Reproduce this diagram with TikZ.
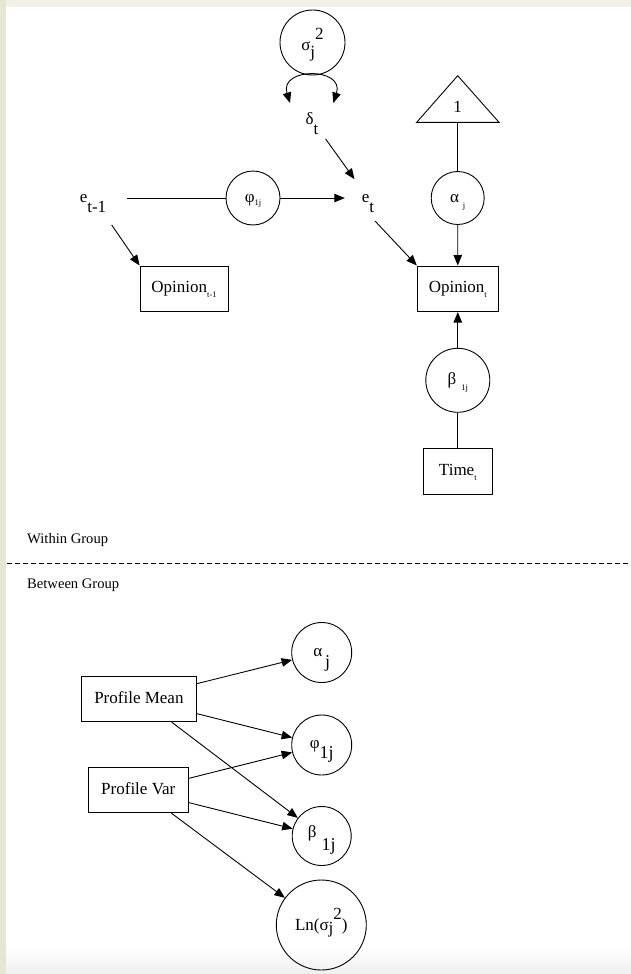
\documentclass[tikz,border=0pt]{standalone}
\usepackage{fontspec}
\setmainfont{Liberation Serif}
\usetikzlibrary{arrows.meta}
\definecolor{topbeige}{HTML}{F2F1E6}
\definecolor{leftbeige}{HTML}{E7E6D2}
\newcommand\tsub[2]{\raisebox{-#1}{\fontsize{8.5}{9}\selectfont #2}}
\newcommand\gsm[1]{{\fontsize{17}{19}\selectfont #1}}
\newcommand\bsub[2]{\raisebox{-#1}{\fontsize{18}{20}\selectfont #2}}
\begin{document}
\begin{tikzpicture}[x=1pt,y=-1pt,
  every node/.style={font=\fontsize{17}{20}\selectfont, inner sep=0pt},
  tx/.style={text height=12pt, text depth=4pt},
  circ/.style={draw, circle, line width=0.9pt, tx},
  box/.style={draw, rectangle, line width=0.9pt, tx},
  ghost/.style={circle, tx},
  ln/.style={line width=0.9pt},
  arr/.style={ln, -{Triangle[length=10.5pt,width=8.5pt]}},
  twoarr/.style={ln, {Triangle[length=10.5pt,width=8.5pt]}-{Triangle[length=10.5pt,width=8.5pt]}},
  grp/.style={font=\fontsize{14.6}{17}\selectfont, anchor=base west}
]
\useasboundingbox (0,0) rectangle (631,974);
\fill[white] (0,0) rectangle (631,974);
\shade[top color=white, bottom color=black!6] (6,948) rectangle (631,974);
\fill[topbeige] (0,0) rectangle (631,7);
\fill[leftbeige] (0,0) rectangle (6,974);

% ---------- within group ----------
\node[circ, minimum size=65pt] (sig) at (312.5,42.5)
  {\raisebox{-4.5pt}{σ\raisebox{-7pt}{j}\raisebox{11pt}{2}}};
\coordinate (sigL) at (290,103);
\coordinate (sigR) at (333.3,103);
\draw[twoarr] (sigL) .. controls (279,67) and (345,67) .. (sigR);

\node[ghost, minimum size=46pt] (delta) at (312,120) {δ\raisebox{-10pt}{t}};
\node[tx, minimum width=67.4pt] (em1) at (93,198) {e\raisebox{-10pt}{t-1}};
\node[circ, minimum size=54pt] (phi1) at (253,198) {φ\tsub{3pt}{1j}};
\node[ghost, minimum size=46pt] (et) at (368,198) {e\raisebox{-10pt}{t}};

\coordinate (triA) at (457.7,75.7);
\coordinate (triR) at (499,122.3);
\coordinate (triL) at (416.7,122.3);
\coordinate (triB) at (457.7,122.3);
\draw[ln, line join=miter] (triA) -- (triR) -- (triL) -- cycle;
\node[tx] (one) at (457.7,108.5) {1};

\node[circ, minimum size=53pt] (alphaT) at (457.7,198) {α\hspace{4pt}\tsub{6pt}{j}};
\node[box, minimum width=88pt, minimum height=45.7pt] (opT1) at (184,288.8) {Opinion\tsub{5pt}{t-1}};
\node[box, minimum width=81pt, minimum height=45.7pt] (opT) at (457.8,288.8) {Opinion\tsub{5pt}{t}};
\node[circ, minimum size=64pt] (betaT) at (457.8,380.3) {β\hspace{5pt}\tsub{6pt}{1j}};
\node[box, minimum width=69pt, minimum height=45.7pt] (time) at (457.8,471.2) {Time\tsub{5pt}{t}};

\coordinate (em1s) at (111.7,225);
\coordinate (ets) at (375,221);

\draw[ln] (em1.east) -- (phi1);
\draw[arr] (phi1) -- (et);
\draw[arr] (delta) -- (et);
\draw[arr] (em1s) -- (opT1.north west);
\draw[arr] (ets) -- (opT.north west);
\draw[ln] (triB) -- (alphaT);
\draw[arr] (alphaT) -- (opT);
\draw[arr] (betaT) -- (opT);
\draw[ln] (time) -- (betaT);

% ---------- separator ----------
\node[grp] (within) at (27,543) {Within Group};
\coordinate (dashL) at (7,563);
\coordinate (dashR) at (631,563);
\draw[line width=0.8pt, dash pattern=on 5pt off 3pt] (dashL) -- (dashR);
\node[grp] (between) at (27,588) {Between Group};

% ---------- between group ----------
\node[box, minimum width=114.3pt, minimum height=45pt] (pm) at (138.9,699.2) {Profile Mean};
\node[box, minimum width=100pt, minimum height=45.4pt] (pv) at (138.3,790) {Profile Var};
\node[circ, minimum size=60pt] (aB) at (321.7,652.5) {\gsm{α}\hspace{3pt}\bsub{11pt}{j}};
\node[circ, minimum size=60pt] (phiB) at (321.7,745) {\raisebox{1pt}{\gsm{φ}}\bsub{9pt}{1j}};
\node[circ, minimum size=59pt] (betaB) at (321.7,836) {\raisebox{3pt}{\gsm{β}}\hspace{5pt}\bsub{10pt}{1j}};
\node[circ, minimum size=90pt] (lnB) at (321.3,925)
  {\raisebox{-1pt}{Ln(σ\raisebox{-3pt}{j}\raisebox{11pt}{2})}};

\draw[arr] (pm.15.5) -- (aB);
\draw[arr] (pm.-14.5) -- (phiB);
\draw[arr] (pm.-35.9) -- (betaB);
\draw[arr] (pv.13.2) -- (phiB);
\draw[arr] (pv.-14.3) -- (betaB);
\draw[arr] (pv.-35.6) -- (lnB);
\end{tikzpicture}
\end{document}
